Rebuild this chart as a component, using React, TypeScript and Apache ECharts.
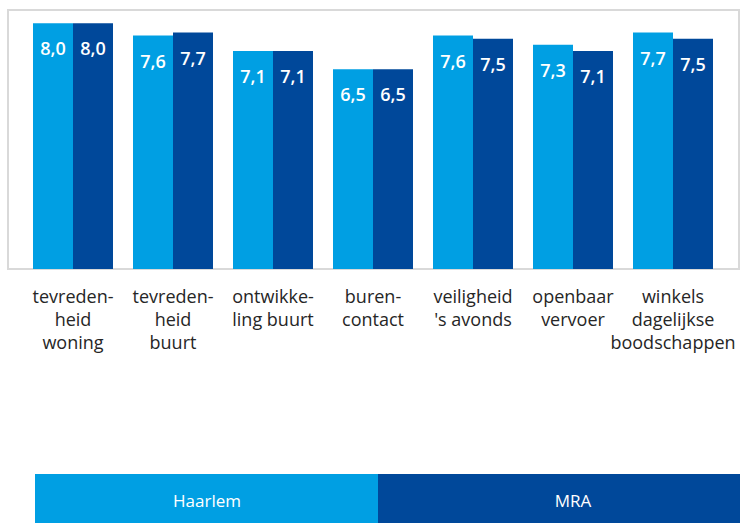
import React, { useEffect, useRef } from "react";
import * as echarts from "echarts";

const categories = [
  "tevreden-\nheid\nwoning",
  "tevreden-\nheid\nbuurt",
  "ontwikke-\nling buurt",
  "buren-\ncontact",
  "veiligheid\n's avonds",
  "openbaar\nvervoer",
  "winkels\ndagelijkse\nboodschappen",
];
const haarlem = [8.0, 7.6, 7.1, 6.5, 7.6, 7.3, 7.7];
const mra = [8.0, 7.7, 7.1, 6.5, 7.5, 7.1, 7.5];
const seriesNames = ["Haarlem", "MRA"];

const LIGHT = "#009fe3";
const DARK = "#00489a";
const FONT = "'Open Sans', 'Noto Sans', sans-serif";

export default function App() {
  const ref = useRef<HTMLDivElement>(null);
  useEffect(() => {
    document.body.style.margin = "0";
    if (!ref.current) return;
    const chart = echarts.init(ref.current, null, { renderer: "svg" });
    const label = {
      show: true,
      position: "insideTop" as const,
      distance: 16,
      color: "#ffffff",
      fontSize: 18,
      fontWeight: 600,
      fontFamily: FONT,
      formatter: (p: any) => Number(p.value).toFixed(1).replace(".", ","),
    };
    chart.setOption({
      animation: false,
      grid: { left: 23, width: 700, top: 11, height: 258 },
      xAxis: {
        type: "category",
        data: categories,
        axisLine: { show: false },
        axisTick: { show: false },
        axisLabel: {
          interval: 0,
          margin: 15,
          color: "#262626",
          fontSize: 18,
          lineHeight: 23,
          fontFamily: FONT,
          align: "center",
        },
      },
      yAxis: {
        type: "value",
        min: 0,
        max: 8.4,
        show: false,
        splitLine: { show: false },
      },
      series: [
        {
          name: seriesNames[0],
          type: "bar",
          data: haarlem,
          barGap: "0%",
          barCategoryGap: "20%",
          itemStyle: { color: LIGHT },
          label,
        },
        {
          name: seriesNames[1],
          type: "bar",
          data: mra,
          barGap: "0%",
          barCategoryGap: "20%",
          itemStyle: { color: DARK },
          label,
        },
      ],
      graphic: [
        {
          type: "rect",
          shape: { x: 8, y: 10, width: 731, height: 259 },
          style: { fill: "none", stroke: "#d9d9d9", lineWidth: 2 },
          z: -10,
        },
        {
          type: "rect",
          shape: { x: 35, y: 474, width: 343, height: 49 },
          style: { fill: LIGHT },
        },
        {
          type: "rect",
          shape: { x: 378, y: 474, width: 362, height: 49 },
          style: { fill: DARK },
        },
        {
          type: "text",
          x: 207,
          y: 500,
          style: {
            text: seriesNames[0],
            fill: "#ffffff",
            fontSize: 17,
            fontFamily: FONT,
            align: "center",
            verticalAlign: "middle",
          },
        },
        {
          type: "text",
          x: 573,
          y: 500,
          style: {
            text: seriesNames[1],
            fill: "#ffffff",
            fontSize: 17,
            fontFamily: FONT,
            align: "center",
            verticalAlign: "middle",
          },
        },
      ],
    });
    return () => chart.dispose();
  }, []);
  return <div ref={ref} style={{ width: 740, height: 523 }} />;
}
